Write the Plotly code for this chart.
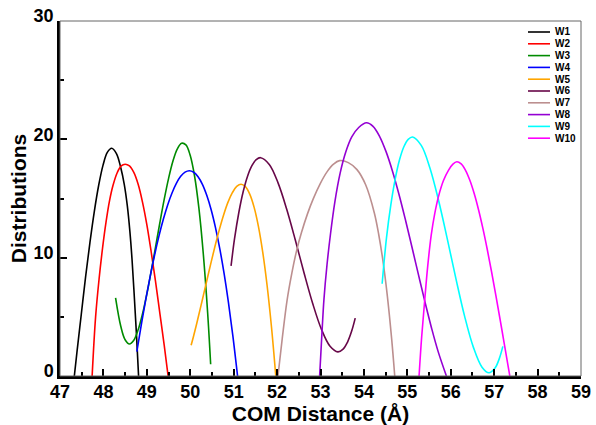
import plotly.graph_objects as go

# Distribution curves of the COM distance for each window
names = ["W1", "W2", "W3", "W4", "W5", "W6", "W7", "W8", "W9", "W10"]
colors = ["#000000", "#FF0000", "#008B00", "#0000FF", "#FFA500",
          "#670748", "#BC8F8F", "#9400D3", "#00FFFF", "#FF00FF"]

w1_x = [47.33, 47.39, 47.49, 47.59, 47.69, 47.79, 47.89, 47.99, 48.09, 48.19,
        48.30, 48.40, 48.48, 48.55, 48.61, 48.66, 48.71, 48.76, 48.81]
w1_y = [0.0, 2.0, 5.2, 8.4, 11.3, 13.9, 16.1, 17.8, 18.9, 19.25,
        18.8, 17.6, 16.2, 14.4, 12.2, 9.8, 6.8, 3.6, 0.0]

w2_x = [47.74, 47.82, 47.90, 47.98, 48.06, 48.14, 48.22, 48.32, 48.41, 48.50,
        48.60, 48.70, 48.80, 48.90, 49.00, 49.10, 49.20, 49.30, 49.40, 49.49]
w2_y = [0.0, 5.0, 8.2, 10.8, 13.0, 14.8, 16.1, 17.2, 17.75, 17.9,
        17.75, 17.2, 16.2, 14.7, 12.8, 10.5, 8.0, 5.3, 2.6, 0.0]

w3_x = [48.28, 48.40, 48.50, 48.60, 48.70, 48.80, 48.90, 49.00, 49.10, 49.20,
        49.30, 49.40, 49.50, 49.60, 49.70, 49.80, 49.90, 50.00, 50.10, 50.20,
        50.30, 50.40, 50.47]
w3_y = [6.6, 4.2, 3.06, 2.7, 3.02, 3.9, 5.24, 6.92, 8.84, 10.89,
        12.95, 14.92, 16.68, 18.14, 19.17, 19.67, 19.53, 18.63, 16.88, 14.16,
        10.35, 5.37, 1.0]

w4_x = [48.77, 48.88, 48.98, 49.08, 49.18, 49.28, 49.38, 49.48, 49.58, 49.68,
        49.78, 49.88, 49.98, 50.08, 50.18, 50.28, 50.38, 50.48, 50.58, 50.68,
        50.78, 50.88, 50.98, 51.09]
w4_y = [2.05, 4.49, 6.56, 8.49, 10.25, 11.84, 13.24, 14.46, 15.47, 16.28,
        16.87, 17.23, 17.35, 17.22, 16.84, 16.20, 15.27, 14.07, 12.56, 10.76,
        8.65, 6.21, 3.44, 0.0]

w5_x = [50.02, 50.07, 50.17, 50.27, 50.37, 50.47, 50.57, 50.67, 50.77, 50.87,
        50.97, 51.07, 51.17, 51.27, 51.37, 51.47, 51.57, 51.67, 51.77, 51.87, 51.97]
w5_y = [2.6, 3.28, 4.75, 6.30, 7.88, 9.46, 10.97, 12.37, 13.63, 14.69,
        15.49, 16.02, 16.2, 16.0, 15.37, 14.27, 12.65, 10.45, 7.65, 4.18, 0.0]

w6_x = [50.94, 51.02, 51.12, 51.22, 51.32, 51.42, 51.52, 51.62, 51.82, 52.02,
        52.22, 52.42, 52.62, 52.82, 53.02, 53.22, 53.40, 53.52, 53.62, 53.72, 53.80]
w6_y = [9.3, 11.6, 13.84, 15.59, 16.89, 17.78, 18.29, 18.45, 17.88, 16.34,
        14.11, 11.49, 8.73, 6.13, 3.96, 2.51, 2.04, 2.27, 2.85, 3.82, 4.89]

w7_x = [52.02, 52.12, 52.23, 52.34, 52.45, 52.56, 52.70, 52.83, 53.00, 53.15,
        53.30, 53.44, 53.64, 53.84, 54.04, 54.24, 54.34, 54.44, 54.54, 54.64, 54.71]
w7_y = [0.0, 3.2, 6.4, 8.7, 10.6, 12.1, 13.7, 14.95, 16.3, 17.25,
        17.9, 18.2, 18.03, 17.44, 16.16, 13.78, 11.98, 9.68, 6.75, 3.09, 0.0]

w8_x = [52.98, 53.03, 53.08, 53.15, 53.23, 53.33, 53.45, 53.58, 53.72, 53.88,
        54.06, 54.21, 54.36, 54.51, 54.66, 54.81, 54.96, 55.11, 55.26, 55.41,
        55.56, 55.71, 55.90]
w8_y = [0.0, 3.4, 6.5, 9.4, 12.0, 14.7, 17.1, 18.9, 20.2, 21.0,
        21.4, 21.1, 20.26, 18.96, 17.29, 15.32, 13.14, 10.84, 8.50, 6.20,
        4.02, 2.06, 0.0]

w9_x = [54.42, 54.52, 54.62, 54.72, 54.82, 54.92, 55.02, 55.12, 55.32, 55.52,
        55.72, 55.92, 56.12, 56.32, 56.52, 56.72, 56.88, 57.02, 57.12, 57.20]
w9_y = [7.8, 11.68, 14.46, 16.64, 18.27, 19.37, 20.0, 20.2, 19.49, 17.58,
        14.83, 11.59, 8.21, 5.04, 2.44, 0.74, 0.27, 0.67, 1.49, 2.5]

w10_x = [55.27, 55.33, 55.40, 55.47, 55.55, 55.63, 55.72, 55.83, 55.95, 56.05,
         56.14, 56.24, 56.34, 56.44, 56.54, 56.64, 56.74, 56.84, 56.94, 57.04,
         57.14, 57.24, 57.36]
w10_y = [0.0, 3.3, 6.4, 9.3, 11.9, 13.7, 15.2, 16.5, 17.4, 17.9,
         18.1, 17.92, 17.38, 16.54, 15.42, 14.05, 12.47, 10.71, 8.81, 6.79,
         4.70, 2.57, 0.0]

xs = [w1_x, w2_x, w3_x, w4_x, w5_x, w6_x, w7_x, w8_x, w9_x, w10_x]
ys = [w1_y, w2_y, w3_y, w4_y, w5_y, w6_y, w7_y, w8_y, w9_y, w10_y]

x_ticks = list(range(47, 60))
y_ticks = [0, 10, 20, 30]

fig = go.Figure()
for name, color, x, y in zip(names, colors, xs, ys):
    fig.add_trace(go.Scatter(
        x=x, y=y, name=name, mode="lines",
        line=dict(color=color, width=1.6, shape="spline", smoothing=1.0),
        showlegend=False,
    ))

W, H = 596, 425
ml, mr, mt, mb = 60, 15, 21, 49
pw, ph = W - ml - mr, H - mt - mb

def px_to_paper_x(px):
    return (px - ml) / pw

def py_to_paper_y(py):
    return (H - mb - py) / ph

# hand-built legend in the top right corner
shapes = []
annotations = []
for i, (name, color) in enumerate(zip(names, colors)):
    yy = py_to_paper_y(32 + i * 11.8)
    shapes.append(dict(type="line", xref="paper", yref="paper",
                       x0=px_to_paper_x(528), x1=px_to_paper_x(550), y0=yy, y1=yy,
                       line=dict(color=color, width=1.6)))
    annotations.append(dict(text=name, xref="paper", yref="paper",
                            x=px_to_paper_x(553), y=yy, xanchor="left", yanchor="middle",
                            showarrow=False,
                            font=dict(family="Liberation Sans", size=10, color="black", weight="bold")))

# thin frame around the plot area
shapes.append(dict(type="rect", xref="paper", yref="paper", x0=0, x1=1, y0=0, y1=1,
                   line=dict(color="#666666", width=1), layer="above"))

tick_font = dict(family="Liberation Sans", size=18, color="black", weight="bold")
title_font = dict(family="Liberation Sans", size=21, color="black", weight="bold")

fig.update_layout(
    width=W, height=H,
    margin=dict(l=ml, r=mr, t=mt, b=mb),
    paper_bgcolor="white", plot_bgcolor="white",
    shapes=shapes, annotations=annotations,
    xaxis=dict(
        range=[47, 59], tickvals=x_ticks, ticks="inside", ticklen=7, tickwidth=2,
        tickcolor="black", showline=True, linecolor="black", linewidth=2.5,
        showgrid=False, zeroline=False, tickfont=tick_font, automargin=False,
        ticklabelstandoff=-2,
        minor=dict(dtick=0.5, ticks="inside", ticklen=4, tickwidth=2, tickcolor="black", showgrid=False),
        title=dict(text="COM Distance (Å)", font=title_font, standoff=3),
    ),
    yaxis=dict(
        range=[0, 30], tickvals=y_ticks, ticks="inside", ticklen=7, tickwidth=2,
        tickcolor="black", showline=True, linecolor="black", linewidth=2.5,
        showgrid=False, zeroline=False, tickfont=tick_font, automargin=False,
        ticklabelshift=-5,
        minor=dict(dtick=5, ticks="inside", ticklen=4, tickwidth=2, tickcolor="black", showgrid=False),
        title=dict(text="Distributions", font=title_font, standoff=2),
    ),
)

fig.write_html("out.html")
